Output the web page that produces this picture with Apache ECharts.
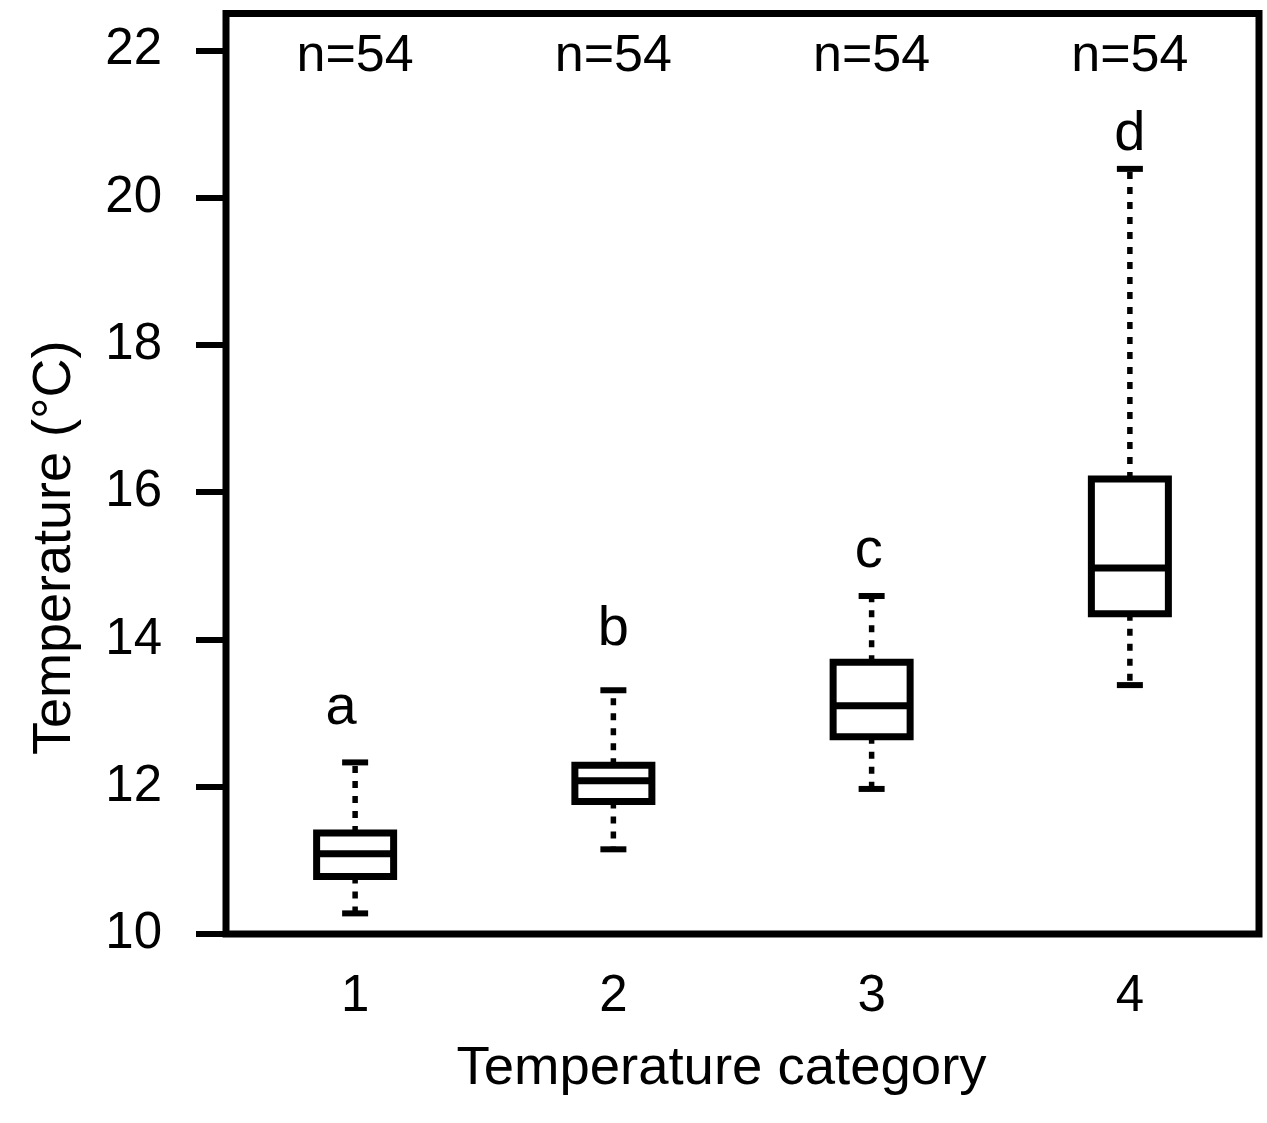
<!DOCTYPE html>
<html><head><meta charset="utf-8">
<script src="https://cdn.jsdelivr.net/npm/echarts@6/dist/echarts.min.js"></script>
<style>html,body{margin:0;padding:0;background:#fff}#c{width:1267px;height:1123px}</style>
</head><body><div id="c"></div>
<script>
// ---- data ----
const categories = ['1', '2', '3', '4'];
const whiskerLow = [10.28, 11.15, 11.97, 13.38];
const q1 = [10.78, 11.80, 12.68, 14.35];
const median = [11.09, 12.08, 13.10, 14.97];
const q3 = [11.37, 12.29, 13.69, 16.18];
const whiskerHigh = [12.33, 13.31, 14.59, 20.39];
const groupLetters = ['a', 'b', 'c', 'd'];
const letterY = [13.06, 14.13, 15.19, 20.85];
const sampleSizes = ['n=54', 'n=54', 'n=54', 'n=54'];
const sampleLabelY = 21.91;
const yTicks = [10, 12, 14, 16, 18, 20, 22];

const FONT = '"Liberation Sans", Arial, sans-serif';
const chart = echarts.init(document.getElementById('c'), null, {renderer: 'canvas'});

const boxData = categories.map((c, i) => [q1[i], q1[i], median[i], q3[i], q3[i]]);
const whiskerData = categories.map((c, i) => [i, whiskerLow[i], q1[i], q3[i], whiskerHigh[i]]);
const letterData = categories.map((c, i) => {
  const item = {value: [i, letterY[i], groupLetters[i]]};
  if (i === 0) item.label = {offset: [-14, 0]};
  if (i === 2) item.label = {offset: [-3, 0]};
  return item;
});
const nData = categories.map((c, i) => [i, sampleLabelY, sampleSizes[i]]);

function textLabel(size) {
  return {
    show: true, position: 'inside', color: '#000000', opacity: 1,
    fontSize: size, fontFamily: FONT,
    textBorderWidth: 0,
    formatter: p => p.value[2]
  };
}

chart.setOption({
  animation: false,
  grid: {
    left: 226, right: 8, top: 13.5, bottom: 189,
    show: true, borderColor: '#000', borderWidth: 7, backgroundColor: 'transparent',
    containLabel: false, outerBoundsMode: 'none'
  },
  xAxis: {
    type: 'category', data: categories, boundaryGap: true,
    axisLine: {show: false}, axisTick: {show: false}, splitLine: {show: false},
    axisLabel: {color: '#000', fontSize: 51, fontFamily: FONT, margin: 63, verticalAlign: 'middle'},
    name: 'Temperature category', nameLocation: 'middle', nameGap: 135,
    nameTextStyle: {color: '#000', fontSize: 54.5, fontFamily: FONT, verticalAlign: 'middle', padding: [0, 42, 0, 0]}
  },
  yAxis: {
    type: 'value', min: 10, max: 22.5,
    axisLine: {show: false}, splitLine: {show: false},
    axisTick: {show: true, inside: false, length: 30, customValues: yTicks,
      lineStyle: {color: '#000', width: 6}},
    axisLabel: {color: '#000', fontSize: 51, fontFamily: FONT, margin: 64, customValues: yTicks},
    name: 'Temperature (°C)', nameLocation: 'middle', nameGap: 171,
    nameTextStyle: {color: '#000', fontSize: 54, fontFamily: FONT, verticalAlign: 'middle', padding: [0, 148, 0, 0]}
  },
  series: [
    {
      type: 'custom',
      data: whiskerData,
      encode: {x: 0, y: [1, 2, 3, 4]},
      silent: true,
      renderItem: function (params, api) {
        const i = api.value(0);
        const pLow = api.coord([i, api.value(1)]);
        const pQ1 = api.coord([i, api.value(2)]);
        const pQ3 = api.coord([i, api.value(3)]);
        const pHigh = api.coord([i, api.value(4)]);
        const x = pLow[0];
        const dash = {stroke: '#000', lineWidth: 5.5, lineDash: [7, 8], fill: null};
        const cap = {stroke: '#000', lineWidth: 6, fill: null};
        return {
          type: 'group',
          children: [
            {type: 'line', shape: {x1: x, y1: pQ1[1], x2: x, y2: pLow[1]}, style: dash},
            {type: 'line', shape: {x1: x, y1: pQ3[1], x2: x, y2: pHigh[1]}, style: dash},
            {type: 'line', shape: {x1: x - 13, y1: pLow[1], x2: x + 13, y2: pLow[1]}, style: cap},
            {type: 'line', shape: {x1: x - 13, y1: pHigh[1], x2: x + 13, y2: pHigh[1]}, style: cap}
          ]
        };
      }
    },
    {
      type: 'boxplot',
      data: boxData,
      boxWidth: [77, 77],
      silent: true,
      itemStyle: {color: '#fff', borderColor: '#000', borderWidth: 7},
      emphasis: {disabled: true}
    },
    {
      type: 'scatter', data: letterData, symbolSize: 1, silent: true,
      itemStyle: {color: 'rgba(0,0,0,0)', opacity: 1}, label: textLabel(56),
      emphasis: {disabled: true}
    },
    {
      type: 'scatter', data: nData, symbolSize: 1, silent: true,
      itemStyle: {color: 'rgba(0,0,0,0)', opacity: 1}, label: textLabel(52),
      emphasis: {disabled: true}
    }
  ]
});
</script>
</body></html>
